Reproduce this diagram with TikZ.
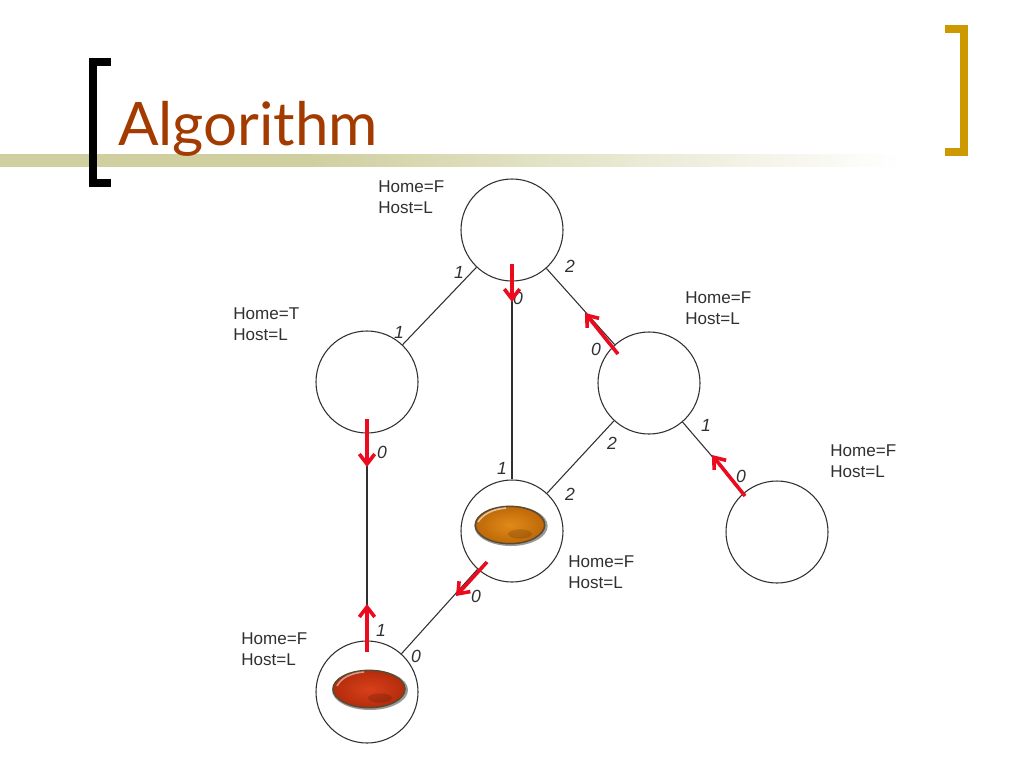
\documentclass[tikz,border=0pt]{standalone}
\usepackage{fontspec}
\setmainfont{Liberation Sans}
\newfontfamily\titlefont{Lato}
\usetikzlibrary{arrows.meta,shapes.geometric}
\definecolor{titlered}{HTML}{A33B00}
\definecolor{barolive}{HTML}{CFCFA0}
\definecolor{bracketgold}{HTML}{CC9900}
\definecolor{edgegray}{HTML}{303030}
\definecolor{moveRed}{HTML}{EC0A1E}
\definecolor{gemrim}{HTML}{5A4A30}
\pgfdeclarehorizontalshading{bandfade}{100bp}{color(0bp)=(barolive); color(40bp)=(barolive); color(69bp)=(white); color(100bp)=(white)}
\tikzset{
	site/.style={circle, draw=edgegray, fill=white, line width=0.8pt, minimum size=76.5pt, inner sep=0pt},
	link/.style={draw=edgegray, line width=0.8pt},
	move/.style={-{Straight Barb[length=7.5pt,width=11.5pt,line width=2.7pt]}, moveRed, line width=2.7pt},
	state/.style={font=\fontsize{12.8}{15.8}\selectfont, text=edgegray, align=left, anchor=north west, inner sep=0pt},
	port/.style={font=\fontsize{13.2}{15}\selectfont\itshape, text=edgegray, inner sep=0pt},
	gemshadow/.style={ellipse, fill=black!40, inner sep=0pt, minimum height=30pt},
	orangegem/.style={ellipse, minimum width=52pt, minimum height=28pt, inner sep=0pt, draw=gemrim, line width=1.1pt, inner color={rgb,255:red,224;green,138;blue,26}, outer color={rgb,255:red,190;green,104;blue,8}},
	redgem/.style={ellipse, minimum width=54pt, minimum height=28pt, inner sep=0pt, draw=gemrim, line width=1.1pt, inner color={rgb,255:red,216;green,64;blue,26}, outer color={rgb,255:red,180;green,44;blue,12}},
	gemspot/.style={ellipse, fill=black, opacity=0.14, inner sep=0pt, minimum width=18pt, minimum height=7pt}
}
\begin{document}
\begin{tikzpicture}[x=0.75pt, y=-0.75pt]
	\useasboundingbox (0,0) rectangle (1024,768);
	% title band
	\shade [shading=bandfade] (0,154) rectangle (1024,166);
	\draw [black, line width=6.5pt, line cap=butt] (111,62) -- (93,62) -- (93,183) -- (111,183);
	\draw [bracketgold, line width=6pt, line cap=butt] (945,29) -- (964,29) -- (964,152) -- (945,152);
	\node [anchor=base west, inner sep=0pt, text=titlered, font=\titlefont\fontsize{45}{50}\selectfont] (title) at (118,145) {Algorithm};
	% sites
	\node [site] (top) at (512,230) {};
	\node [site] (left) at (367,382) {};
	\node [site] (right) at (649,383) {};
	\node [site] (far) at (777,532) {};
	\node [site] (mid) at (512,531) {};
	\node [site] (bottom) at (367,692) {};
	% links
	\draw [link] (top) -- (left);
	\draw [link] (top) -- (mid);
	\draw [link] (top) -- (right);
	\draw [link] (right) -- (mid);
	\draw [link] (right) -- (far);
	\draw [link] (mid) -- (bottom);
	\draw [link] (left) -- (bottom);
	% gems
	\node [gemshadow, minimum width=55pt] (shadeA) at (511,526) {};
	\node [gemshadow, minimum width=57pt] (shadeB) at (370,690) {};
	\node [orangegem] (gemA) at (510,525) {};
	\node [redgem] (gemB) at (369,689) {};
	\node [gemspot] (spotA) at (520,534) {};
	\node [gemspot] (spotB) at (380,698) {};
	\draw [white, opacity=0.6, line width=1.2pt] (478,522) .. controls (483,514) and (493,509) .. (506,508);
	\draw [white, opacity=0.5, line width=1.2pt] (337,686) .. controls (341,678) and (351,673) .. (364,672);
	% port numbers
	\node [port] (p1) at (459,272) {1};
	\node [port] (p2) at (399,332) {1};
	\node [port] (p3) at (518,298) {0};
	\node [port] (p4) at (570,266) {2};
	\node [port] (p5) at (596,349) {0};
	\node [port] (p6) at (706,425) {1};
	\node [port] (p7) at (612,443) {2};
	\node [port] (p8) at (502,468) {1};
	\node [port] (p9) at (570,494) {2};
	\node [port] (p10) at (741,476) {0};
	\node [port] (p11) at (382,452) {0};
	\node [port] (p12) at (476,596) {0};
	\node [port] (p13) at (416,656) {0};
	\node [port] (p14) at (381,630) {1};
	% states
	\node [state] (s1) at (378,180) {Home=F\\Host=L};
	\node [state] (s2) at (233,307) {Home=T\\Host=L};
	\node [state] (s3) at (685,291) {Home=F\\Host=L};
	\node [state] (s4) at (830,444) {Home=F\\Host=L};
	\node [state] (s5) at (568,555) {Home=F\\Host=L};
	\node [state] (s6) at (241,632) {Home=F\\Host=L};
	% moves
	\coordinate (m1a) at (512,264); \coordinate (m1b) at (512,302);
	\coordinate (m2a) at (618,354); \coordinate (m2b) at (585,313);
	\coordinate (m3a) at (367,419); \coordinate (m3b) at (367,467);
	\coordinate (m4a) at (745,496); \coordinate (m4b) at (712,455);
	\coordinate (m5a) at (487,562); \coordinate (m5b) at (456,596);
	\coordinate (m6a) at (367,652); \coordinate (m6b) at (367,604);
	\draw [move] (m1a) -- (m1b);
	\draw [move] (m2a) -- (m2b);
	\draw [move] (m3a) -- (m3b);
	\draw [move] (m4a) -- (m4b);
	\draw [move] (m5a) -- (m5b);
	\draw [move] (m6a) -- (m6b);
\end{tikzpicture}
\end{document}
